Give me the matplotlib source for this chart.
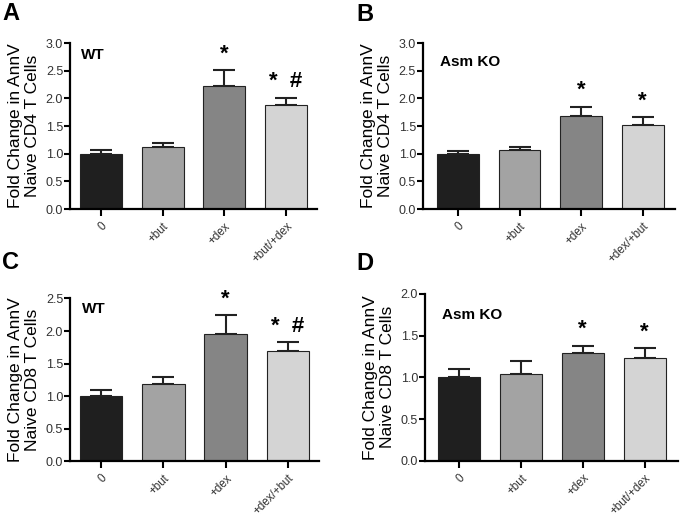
import matplotlib.pyplot as plt
import numpy as np

plt.rcParams['font.family'] = ['Liberation Sans', 'DejaVu Sans']

# bar heights and upper SEM for each panel
groups_a = ['0', '+but', '+dex', '+but/+dex']
mean_a = [1.0, 1.12, 2.23, 1.88]
err_a = [0.06, 0.08, 0.28, 0.13]
sig_a = ['', '', '*', '*  #']

groups_b = ['0', '+but', '+dex', '+dex/+but']
mean_b = [1.0, 1.06, 1.68, 1.52]
err_b = [0.05, 0.06, 0.17, 0.14]
sig_b = ['', '', '*', '*']

groups_c = ['0', '+but', '+dex', '+dex/+but']
mean_c = [1.0, 1.19, 1.95, 1.70]
err_c = [0.09, 0.10, 0.29, 0.13]
sig_c = ['', '', '*', '*  #']

groups_d = ['0', '+but', '+dex', '+but/+dex']
mean_d = [1.0, 1.04, 1.29, 1.23]
err_d = [0.10, 0.15, 0.09, 0.12]
sig_d = ['', '', '*', '*']

bar_colors = ['#1f1f1f', '#a3a3a3', '#858585', '#d4d4d4']


def draw_panel(rect, groups, means, errs, sigs, ymax, yticks, strain, cell, xlim):
    ax = fig.add_axes(rect)
    x = np.arange(len(groups))
    ax.bar(x, means, width=0.68, color=bar_colors, edgecolor='#222222',
           linewidth=0.8, zorder=2)
    ax.errorbar(x, means, yerr=[np.zeros(len(errs)), errs], fmt='none',
                ecolor='#222222', elinewidth=1.5, capsize=8, capthick=1.5,
                zorder=1)
    for xi, m, e, s in zip(x, means, errs, sigs):
        if s:
            ax.annotate(s, (xi, m + e), xytext=(0, 4), textcoords='offset points',
                        ha='center', va='bottom', fontsize=16, fontweight='bold')
    ax.set_xlim(*xlim)
    ax.set_ylim(0, ymax)
    ax.set_yticks(yticks)
    ax.set_yticklabels(['%.1f' % t for t in yticks], fontsize=9, color='#333333')
    ax.set_xticks(x)
    ax.set_xticklabels(groups, rotation=45, ha='right', rotation_mode='anchor',
                       fontsize=8.3, color='#333333')
    for side in ['top', 'right']:
        ax.spines[side].set_visible(False)
    for side in ['left', 'bottom']:
        ax.spines[side].set_linewidth(1.6)
    ax.tick_params(axis='y', direction='out', length=4, width=1.5, pad=1)
    ax.tick_params(axis='x', direction='out', length=5, width=1.5, pad=3)
    ax.set_ylabel('Fold Change in AnnV\nNaive %s T Cells' % cell, fontsize=12.5,
                  labelpad=4, linespacing=1.15)
    ax.text(0.045, 0.93, strain, transform=ax.transAxes, fontsize=11,
            fontweight='bold', va='center', ha='left')
    return ax


fig = plt.figure(figsize=(6.8, 5.19), dpi=100)

draw_panel([0.103, 0.597, 0.363, 0.320], groups_a, mean_a, err_a, sig_a,
           3.0, np.arange(0, 3.01, 0.5), 'WT', 'CD4', (-0.5, 3.5))
axb = draw_panel([0.622, 0.597, 0.371, 0.320], groups_b, mean_b, err_b, sig_b,
                 3.0, np.arange(0, 3.01, 0.5), 'Asm KO', 'CD4', (-0.57, 3.53))
axb.texts[-1].set_position((0.067, 0.885))
axc = draw_panel([0.103, 0.111, 0.366, 0.314], groups_c, mean_c, err_c, sig_c,
                 2.5, np.arange(0, 2.51, 0.5), 'WT', 'CD8', (-0.5, 3.5))
axc.texts[-1].set_position((0.048, 0.934))
axd = draw_panel([0.625, 0.112, 0.372, 0.322], groups_d, mean_d, err_d, sig_d,
                 2.0, np.arange(0, 2.01, 0.5), 'Asm KO', 'CD8', (-0.55, 3.54))
axd.texts[-1].set_position((0.067, 0.874))

for lbl, xf, yf in [('A', 0.003, 0.997), ('B', 0.524, 0.994),
                    ('C', 0.003, 0.516), ('D', 0.524, 0.514)]:
    fig.text(xf, yf, lbl, fontsize=17, fontweight='bold', va='top', ha='left')

fig.savefig('out.png', dpi=100)
